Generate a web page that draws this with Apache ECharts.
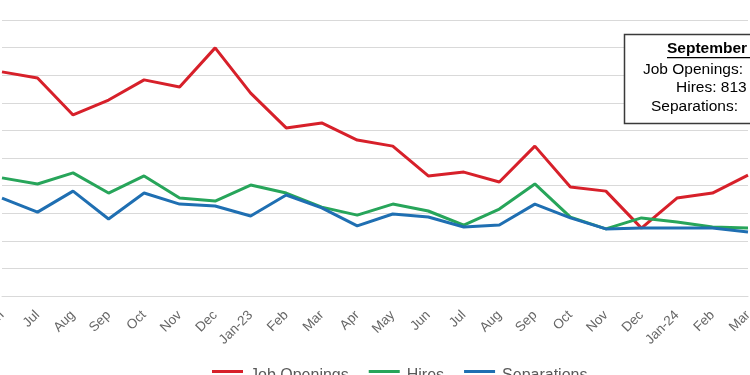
<!DOCTYPE html>
<html>
<head>
<meta charset="utf-8">
<script src="https://cdn.jsdelivr.net/npm/echarts@6/dist/echarts.min.js"></script>
<style>
  html, body { margin: 0; padding: 0; background: #fff; }
  #chart { width: 750px; height: 375px; }
</style>
</head>
<body>
<div id="chart"></div>
<script>
// months Jun-22 .. Mar-24 (the picture is cropped at both sides)
var months = ['Jun', 'Jul', 'Aug', 'Sep', 'Oct', 'Nov', 'Dec', 'Jan-23', 'Feb', 'Mar', 'Apr', 'May',
  'Jun', 'Jul', 'Aug', 'Sep', 'Oct', 'Nov', 'Dec', 'Jan-24', 'Feb', 'Mar'];

var jobOpenings = [1312, 1290, 1156, 1210, 1283, 1257, 1399, 1235, 1109, 1127, 1065, 1043,
  935, 949, 913, 1043, 895, 880, 746, 855, 873, 938];
var hires = [928, 906, 946, 873, 935, 855, 844, 902, 873, 822, 793, 833,
  808, 757, 815, 906, 786, 743, 783, 768, 750, 746];
var separations = [855, 804, 880, 779, 873, 833, 826, 790, 866, 819, 754, 797,
  786, 750, 757, 833, 783, 743, 746, 746, 746, 732];

var boxLines = ['Job Openings:', 'Hires: 813', 'Separations:'];

var font = 'Liberation Sans, Arial, sans-serif';
var chart = echarts.init(document.getElementById('chart'));

function line(name, data, color) {
  return {
    name: name,
    type: 'line',
    data: data,
    symbol: 'none',
    lineStyle: { width: 3, color: color },
    itemStyle: { color: color }
  };
}

function boxText(txt, x, y, bold) {
  return {
    type: 'text',
    x: x, y: y,
    style: {
      text: txt, fontSize: 15.5, fontWeight: bold ? 'bold' : 'normal', fill: '#000',
      fontFamily: font, textVerticalAlign: 'middle'
    },
    z: 101
  };
}

chart.setOption({
  animation: false,
  backgroundColor: '#fff',
  textStyle: { fontFamily: font },
  grid: { left: 2, right: 2, top: 20, bottom: 79, outerBoundsMode: 'none', containLabel: false },
  legend: {
    left: 212,
    top: 368,
    padding: 0,
    itemGap: 20,
    itemWidth: 31,
    itemHeight: 12,
    // line marker sits in the top quarter of the icon box
    icon: 'path://M0,0h31v3h-31z M0,11.99h0.01v0.01h-0.01z',
    textStyle: { fontSize: 16, color: '#595959', padding: [0, 0, 0, 2] },
    data: ['Job Openings', 'Hires', 'Separations']
  },
  xAxis: {
    type: 'category',
    data: months,
    boundaryGap: false,
    axisLine: { lineStyle: { color: '#d9d9d9' } },
    axisTick: { show: false },
    axisLabel: { rotate: 45, fontSize: 13.5, color: '#666', margin: 17, interval: 0 }
  },
  yAxis: {
    type: 'value',
    min: 500,
    max: 1500,
    interval: 100,
    axisLabel: { show: false },
    axisLine: { show: false },
    axisTick: { show: false },
    splitLine: { lineStyle: { color: '#d9d9d9', width: 1 } }
  },
  series: [
    line('Job Openings', jobOpenings, '#d7202a'),
    line('Hires', hires, '#27a55a'),
    line('Separations', separations, '#1f6fb2')
  ],
  graphic: [
    {
      type: 'rect',
      shape: { x: 624.5, y: 34.5, width: 200, height: 89 },
      style: { fill: '#fff', stroke: '#3a3a3a', lineWidth: 1.5 },
      z: 100
    },
    boxText('September', 667, 49, true),
    {
      type: 'rect',
      shape: { x: 667, y: 57, width: 90, height: 1.2 },
      style: { fill: '#000' },
      z: 101
    },
    boxText(boxLines[0], 643, 70),
    boxText(boxLines[1], 676, 88),
    boxText(boxLines[2], 651, 107)
  ]
});
</script>
</body>
</html>
